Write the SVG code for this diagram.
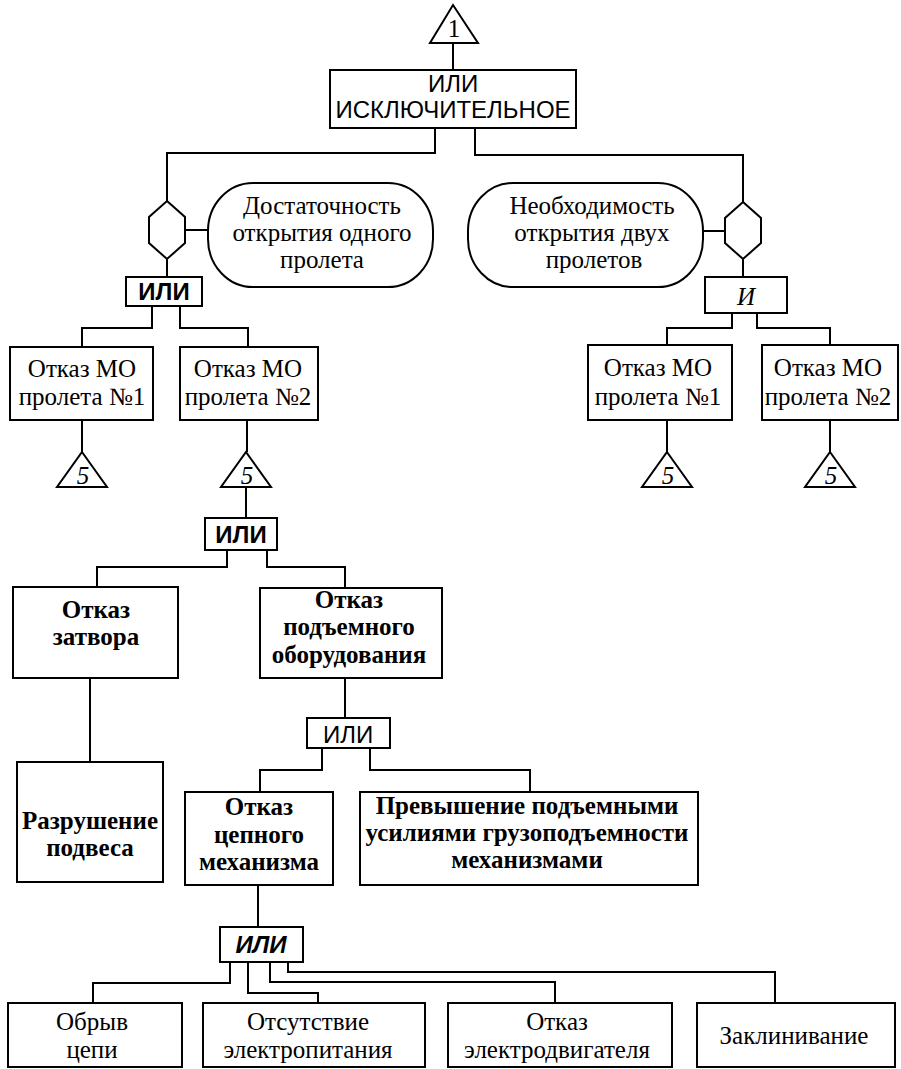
<svg xmlns="http://www.w3.org/2000/svg" width="901" height="1069" viewBox="0 0 901 1069">
<style>
.box{fill:#fff;stroke:#000;stroke-width:2}
.ln{fill:none;stroke:#000;stroke-width:2}
.t{font-family:"Liberation Serif","Times New Roman",serif;font-size:25px;text-anchor:middle;fill:#000}
.b{font-weight:bold}
.s{font-family:"Liberation Sans",Arial,sans-serif;font-size:24px;text-anchor:middle;fill:#000}
.i{font-style:italic}
</style>
<rect width="901" height="1069" fill="#fff"/>
<g id="connectors">
<polyline class="ln" points="453,43 453,70"/>
<polyline class="ln" points="435,128 435,153 167,153 167,201"/>
<polyline class="ln" points="475,128 475,155 743,155 743,202"/>
<polyline class="ln" points="185,230 208,230"/>
<polyline class="ln" points="703,231 725,231"/>
<polyline class="ln" points="167,259 167,277"/>
<polyline class="ln" points="743,259 743,277"/>
<polyline class="ln" points="152,306 152,328 82,328 82,347"/>
<polyline class="ln" points="180,306 180,328 248,328 248,347"/>
<polyline class="ln" points="732,313 732,328 667,328 667,345"/>
<polyline class="ln" points="757,313 757,328 830,328 830,345"/>
<polyline class="ln" points="82,420 82,452"/>
<polyline class="ln" points="247,420 247,452"/>
<polyline class="ln" points="667,420 667,452"/>
<polyline class="ln" points="830,420 830,452"/>
<polyline class="ln" points="246,487 246,518"/>
<polyline class="ln" points="227,550 227,567 97,567 97,587"/>
<polyline class="ln" points="267,550 267,567 345,567 345,588"/>
<polyline class="ln" points="90,678 90,762"/>
<polyline class="ln" points="345,678 345,718"/>
<polyline class="ln" points="322,748 322,770 260,770 260,792"/>
<polyline class="ln" points="370,748 370,770 530,770 530,792"/>
<polyline class="ln" points="258,885 258,927"/>
<polyline class="ln" points="230,962 230,983 93,983 93,1003"/>
<polyline class="ln" points="248,962 248,993 318,993 318,1003"/>
<polyline class="ln" points="270,962 270,982 555,982 555,1003"/>
<polyline class="ln" points="288,962 288,972 775,972 775,1003"/>
</g>
<g id="n-top-tri"><polygon class="box" points="453,5 478,43 430,43"/><text class="t" x="454" y="37" font-size="26">1</text></g>
<g id="n-xor"><rect class="box" x="330" y="70" width="246" height="58"/><text class="s" x="453" y="92">ИЛИ</text><text class="s" x="453" y="118">ИСКЛЮЧИТЕЛЬНОЕ</text></g>
<g id="n-hex-l"><polygon class="box" points="167,201 185,217 185,243 167,259 149,243 149,217"/></g>
<g id="n-cond-l"><rect class="box" x="208" y="183" width="225" height="104" rx="45" ry="48"/><text class="t" x="322" y="214">Достаточность</text><text class="t" x="322" y="241">открытия одного</text><text class="t" x="322" y="268">пролета</text></g>
<g id="n-hex-r"><polygon class="box" points="743,202 761,218 761,243 743,259 725,243 725,218"/></g>
<g id="n-cond-r"><rect class="box" x="468" y="183" width="235" height="104" rx="45" ry="48"/><text class="t" x="592" y="214">Необходимость</text><text class="t" x="592" y="241">открытия двух</text><text class="t" x="594" y="268">пролетов</text></g>
<g id="n-or-l"><rect class="box" x="126" y="277" width="76" height="29"/><text class="s b" x="164" y="300" font-size="22">ИЛИ</text></g>
<g id="n-and-r"><rect class="box" x="705" y="277" width="82" height="36"/><text class="t i" x="746" y="305">И</text></g>
<g id="n-l1"><rect class="box" x="10" y="347" width="143" height="73"/><text class="t" x="82" y="377">Отказ МО</text><text class="t" x="82" y="405">пролета №1</text></g>
<g id="n-l2"><rect class="box" x="180" y="347" width="138" height="73"/><text class="t" x="248" y="377">Отказ МО</text><text class="t" x="248" y="405">пролета №2</text></g>
<g id="n-r1"><rect class="box" x="588" y="345" width="144" height="75"/><text class="t" x="658" y="376">Отказ МО</text><text class="t" x="658" y="405">пролета №1</text></g>
<g id="n-r2"><rect class="box" x="762" y="345" width="136" height="75"/><text class="t" x="828" y="376">Отказ МО</text><text class="t" x="828" y="405">пролета №2</text></g>
<g id="n-tri-l1"><polygon class="box" points="82,452 107,487 57,487"/><text class="t i" x="83" y="484" font-size="25">5</text></g>
<g id="n-tri-l2"><polygon class="box" points="246,452 271,487 221,487"/><text class="t i" x="247" y="484" font-size="25">5</text></g>
<g id="n-tri-r1"><polygon class="box" points="667,452 692,487 642,487"/><text class="t i" x="668" y="484" font-size="25">5</text></g>
<g id="n-tri-r2"><polygon class="box" points="830,452 855,487 805,487"/><text class="t i" x="831" y="484" font-size="25">5</text></g>
<g id="n-or-m"><rect class="box" x="205" y="518" width="72" height="32"/><text class="s b" x="241" y="543" font-size="22">ИЛИ</text></g>
<g id="n-zatvor"><rect class="box" x="13" y="587" width="165" height="91"/><text class="t b" x="96" y="618" font-size="24">Отказ</text><text class="t b" x="96" y="645" font-size="24">затвора</text></g>
<g id="n-podem"><rect class="box" x="260" y="588" width="182" height="90"/><text class="t b" x="349" y="608" font-size="24">Отказ</text><text class="t b" x="349" y="635" font-size="24">подъемного</text><text class="t b" x="349" y="663" font-size="24">оборудования</text></g>
<g id="n-or-p"><rect class="box" x="307" y="718" width="83" height="30"/><text class="s" x="348" y="743" font-size="23">ИЛИ</text></g>
<g id="n-razr"><rect class="box" x="17" y="762" width="146" height="120"/><text class="t b" x="90" y="829" font-size="24">Разрушение</text><text class="t b" x="90" y="856" font-size="24">подвеса</text></g>
<g id="n-cep"><rect class="box" x="185" y="792" width="148" height="93"/><text class="t b" x="259" y="815" font-size="24">Отказ</text><text class="t b" x="259" y="843" font-size="24">цепного</text><text class="t b" x="259" y="870" font-size="24">механизма</text></g>
<g id="n-prev"><rect class="box" x="360" y="792" width="338" height="93"/><text class="t b" x="527" y="814" font-size="24">Превышение подъемными</text><text class="t b" x="527" y="841" font-size="24">усилиями грузоподъемности</text><text class="t b" x="527" y="868" font-size="24">механизмами</text></g>
<g id="n-or-b"><rect class="box" x="220" y="927" width="83" height="35"/><text class="s b i" x="261" y="953" font-size="23">ИЛИ</text></g>
<g id="n-obryv"><rect class="box" x="8" y="1003" width="174" height="64"/><text class="t" x="92" y="1030">Обрыв</text><text class="t" x="92" y="1058">цепи</text></g>
<g id="n-otsut"><rect class="box" x="203" y="1003" width="222" height="64"/><text class="t" x="308" y="1030">Отсутствие</text><text class="t" x="308" y="1058">электропитания</text></g>
<g id="n-motor"><rect class="box" x="448" y="1003" width="224" height="64"/><text class="t" x="557" y="1030">Отказ</text><text class="t" x="557" y="1058">электродвигателя</text></g>
<g id="n-zakl"><rect class="box" x="697" y="1003" width="198" height="64"/><text class="t" x="794" y="1044">Заклинивание</text></g>
</svg>
